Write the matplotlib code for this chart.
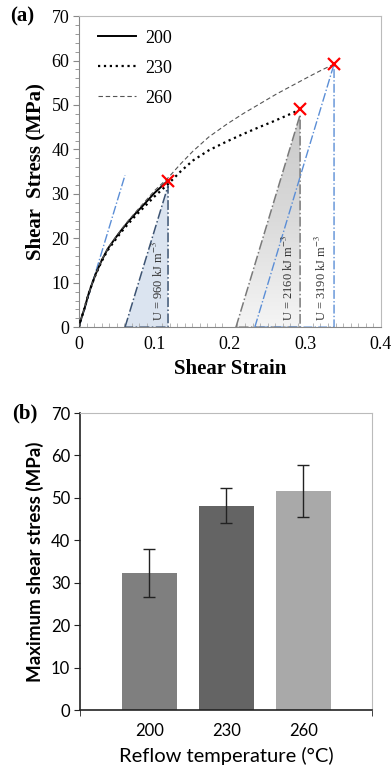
import numpy as np
import matplotlib
matplotlib.use("Agg")
import matplotlib.pyplot as plt
from matplotlib.patches import Polygon
from matplotlib.colors import LinearSegmentedColormap
from matplotlib.ticker import MultipleLocator

plt.rcParams["mathtext.fontset"] = "stix"

# ---- panel (a): stress-strain curves ----
x200 = [0, 0.002, 0.005, 0.008, 0.012, 0.017, 0.022, 0.030, 0.038, 0.048, 0.056,
        0.065, 0.075, 0.085, 0.100, 0.118]
y200 = [0, 1.4, 3.0, 4.6, 7.1, 9.6, 11.9, 15.0, 17.6, 20.0, 21.8,
        23.7, 25.6, 27.4, 30.2, 33.0]
x230 = [0, 0.002, 0.005, 0.008, 0.012, 0.017, 0.022, 0.030, 0.038, 0.048, 0.056,
        0.065, 0.075, 0.085, 0.100, 0.118, 0.135, 0.151, 0.172, 0.196, 0.218, 0.240,
        0.256, 0.271, 0.283, 0.293]
y230 = [0, 1.4, 3.0, 4.6, 7.1, 9.6, 11.8, 14.8, 17.3, 19.6, 21.4,
        23.2, 25.1, 26.8, 29.4, 32.2, 35.1, 37.5, 39.8, 41.8, 43.5, 45.1,
        46.2, 47.3, 48.2, 49.0]
x260 = [0, 0.002, 0.005, 0.008, 0.012, 0.017, 0.022, 0.030, 0.038, 0.048, 0.056,
        0.065, 0.075, 0.085, 0.100, 0.118, 0.135, 0.151, 0.172, 0.196, 0.218, 0.240,
        0.262, 0.284, 0.306, 0.322, 0.338]
y260 = [0, 1.4, 3.0, 4.6, 7.1, 9.6, 11.9, 15.1, 17.7, 20.1, 22.0,
        23.9, 25.9, 27.8, 30.7, 33.6, 36.8, 39.6, 42.8, 45.7, 48.1, 50.3,
        52.5, 54.5, 56.5, 57.9, 59.2]
fail_x = [0.118, 0.293, 0.338]
fail_y = [33.0, 49.0, 59.2]
elastic_x = [0, 0.061]
elastic_y = [0, 34.2]
tri_base = [0.061, 0.208, 0.233]
energy = ["960", "2160", "3190"]
energy_x = [0.105, 0.277, 0.321]

# ---- panel (b): max shear stress bars ----
temps = ["200", "230", "260"]
tau_max = [32.3, 48.2, 51.7]
tau_hi = [37.9, 52.3, 57.7]
tau_lo = [26.6, 44.1, 45.6]
bar_colors = ["#7f7f7f", "#646464", "#a9a9a9"]

BLUE = "#5b8ed6"
DARKBLUE = "#3d5473"
SERIF = "Liberation Serif"
SANS = "Lato"

fig = plt.figure(figsize=(3.91, 7.68), dpi=100)

# ================= (a) =================
ax = fig.add_axes([0.202, 0.574, 0.772, 0.405])
ax.plot(x200, y200, "-", color="black", lw=1.4, label="200", zorder=4)
ax.plot(x230, y230, ":", color="black", lw=1.6, label="230", zorder=4)
ax.plot(x260, y260, "--", color="#555555", lw=0.8, dashes=(4, 2.5), label="260", zorder=4)

# initial elastic slope
ax.plot(elastic_x, elastic_y, "-.", color=BLUE, lw=1.0)

# triangle 1 (200): filled light blue
p1 = [(tri_base[0], 0), (fail_x[0], fail_y[0] - 1.2), (fail_x[0], 0)]
ax.add_patch(Polygon(p1, closed=True, facecolor="#dbe4f0", edgecolor="none", zorder=1))
ax.plot([tri_base[0], fail_x[0], fail_x[0], tri_base[0]],
        [0, fail_y[0] - 1.2, 0, 0], "-.", color=DARKBLUE, lw=1.1, zorder=2)

# triangle 2 (230): grey gradient fill
p2 = [(tri_base[1], 0), (fail_x[1], fail_y[1] - 1.2), (fail_x[1], 0)]
poly2 = Polygon(p2, closed=True, facecolor="none", edgecolor="none")
ax.add_patch(poly2)
greys = LinearSegmentedColormap.from_list("g", ["#f5f5f5", "#dadada", "#c8c8c8"])
grad = np.linspace(0, 1, 256).reshape(-1, 1)
im = ax.imshow(grad, cmap=greys, origin="lower",
               extent=[tri_base[1], fail_x[1], 0, fail_y[1]], aspect="auto", zorder=1)
im.set_clip_path(poly2)
ax.plot([tri_base[1], fail_x[1], fail_x[1], tri_base[1]],
        [0, fail_y[1] - 1.2, 0, 0], "-.", color="#7a7a7a", lw=1.1, zorder=2)

# triangle 3 (260): outline only
ax.plot([tri_base[2], fail_x[2], fail_x[2], tri_base[2]],
        [0, fail_y[2], 0, 0], "-.", color=BLUE, lw=1.0, zorder=2)

ax.plot(fail_x, fail_y, "x", color="red", ms=8, mew=1.6, zorder=6)

for ex, e in zip(energy_x, energy):
    ax.text(ex, 1.5, "U = %s kJ m$^{-3}$" % e, rotation=90, ha="center", va="bottom",
            fontsize=9, color="#333333", family=SERIF, zorder=5)

ax.set_xlim(0, 0.4)
ax.set_ylim(0, 70)
ax.set_xticks([0, 0.1, 0.2, 0.3, 0.4], ["0", "0.1", "0.2", "0.3", "0.4"])
ax.xaxis.set_minor_locator(MultipleLocator(0.01))
ax.yaxis.set_major_locator(MultipleLocator(10))
ax.yaxis.set_minor_locator(MultipleLocator(2))
ax.tick_params(axis="y", which="major", direction="out", length=4, color="#888888",
               labelsize=13, pad=3)
ax.tick_params(axis="y", which="minor", direction="out", length=3, color="#888888")
ax.tick_params(axis="x", which="major", direction="in", length=0, labelsize=13, pad=6)
ax.tick_params(axis="x", which="minor", direction="in", length=3, color="#aaaaaa")
for lab in ax.get_xticklabels() + ax.get_yticklabels():
    lab.set_family(SERIF)
for s in ["left", "bottom"]:
    ax.spines[s].set_color("#888888")
for s in ["top", "right"]:
    ax.spines[s].set_color("#bbbbbb")
ax.set_xlabel("Shear Strain", family=SERIF, fontsize=15, fontweight="bold", labelpad=5)
ax.set_ylabel("Shear  Stress (MPa)", family=SERIF, fontsize=15, fontweight="bold", labelpad=4)
ax.legend(loc="upper left", bbox_to_anchor=(0.04, 0.98), frameon=False,
          handlelength=2.1, labelspacing=0.72, handletextpad=0.5, borderaxespad=0,
          prop={"family": SERIF, "size": 13})

fig.text(0.025, 0.979, "(a)", family=SERIF, fontsize=15, fontweight="bold", va="center")

# ================= (b) =================
bx = fig.add_axes([0.2046, 0.0755, 0.747, 0.3867])
pos = np.arange(len(temps))
err = [np.array(tau_max) - np.array(tau_lo), np.array(tau_hi) - np.array(tau_max)]
bx.bar(pos, tau_max, width=0.71, color=bar_colors, edgecolor="none")
bx.errorbar(pos, tau_max, yerr=err, fmt="none", ecolor="#222222", elinewidth=1.0,
            capsize=4, capthick=1.0)
bx.set_xlim(-0.9, 2.89)
bx.set_ylim(0, 70)
bx.set_xticks(pos)
bx.set_xticklabels(temps)
bx.set_xticks([-0.9, 2.89], minor=True)
bx.yaxis.set_major_locator(MultipleLocator(10))
bx.tick_params(axis="x", which="major", length=0, labelsize=12, pad=9)
bx.tick_params(axis="x", which="minor", direction="out", length=4, color="#222222")
bx.tick_params(axis="y", direction="out", length=4, color="#222222", labelsize=12, pad=3)
for lab in bx.get_xticklabels() + bx.get_yticklabels():
    lab.set_family(SANS)
for s in ["left", "bottom"]:
    bx.spines[s].set_color("#222222")
    bx.spines[s].set_linewidth(1.2)
for s in ["top", "right"]:
    bx.spines[s].set_color("#bbbbbb")
bx.set_xlabel("Reflow temperature (°C)", family=SANS, fontsize=14.5, labelpad=6)
bx.set_ylabel("Maximum shear stress (MPa)", family=SANS, fontsize=13.5,
              fontweight="bold", labelpad=5)

fig.text(0.03, 0.462, "(b)", family=SERIF, fontsize=15, fontweight="bold", va="center")

fig.savefig("out.png", dpi=100)
